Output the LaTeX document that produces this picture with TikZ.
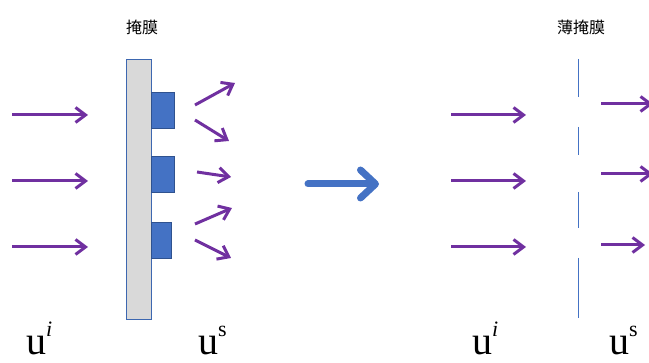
\documentclass[tikz,border=0pt]{standalone}
\usepackage{fontspec}
\setmainfont{Liberation Serif}
\newfontfamily\cjk{Noto Sans CJK SC}
\usetikzlibrary{arrows.meta, positioning}
\definecolor{raypurple}{HTML}{7030A0}
\definecolor{maskblue}{HTML}{4472C4}
\definecolor{maskedge}{HTML}{2F528F}
\definecolor{maskgray}{HTML}{D9D9D9}

\newcommand{\field}[1]{\fontsize{40}{40}\selectfont u\raisebox{0.45em}{\fontsize{22}{22}\selectfont #1}}

\begin{document}
\begin{tikzpicture}[
    x=1pt, y=-1pt,
    mask/.style={draw=maskblue!90!black, line width=0.8pt, fill=maskgray, minimum width=25pt, minimum height=260pt, inner sep=0pt},
    block/.style={draw=maskedge, line width=0.6pt, fill=maskblue, minimum width=23pt, minimum height=36pt, inner sep=0pt},
    film/.style={draw=maskblue, line width=1pt},
    title/.style={font=\cjk\fontsize{16}{16}\selectfont, inner sep=0pt},
    sym/.style={anchor=base west, inner sep=0pt},
    ray/.style={raypurple, line width=3pt, -{Straight Barb[length=10pt, width=15pt]}},
    bigarrow/.style={maskblue, line width=7pt, line cap=round, -{Straight Barb[length=15pt, width=28pt, line cap=round, line join=round]}}
]
\useasboundingbox (0,0) rectangle (649,363);

% Thick mask with its relief blocks
\node[mask] (mask) at (138.5,189) {};
\node[block, anchor=north west] (blk1) at (mask.east |- 0,92) {};
\node[block, anchor=north west] (blk2) at (mask.east |- 0,156) {};
\node[block, anchor=north west, minimum width=20pt] (blk3) at (mask.east |- 0,222) {};
\node[title] (maskname) at (142,27) {掩膜};

% Incident light, both sides
\foreach \y [count=\k] in {115,181,247} {
  \coordinate (inA\k) at (12,\y);
  \coordinate (hitA\k) at (88,\y);
  \draw[ray] (inA\k) -- (hitA\k);
  \coordinate (inB\k) at (451,\y);
  \coordinate (hitB\k) at (526,\y);
  \draw[ray] (inB\k) -- (hitB\k);
}

% Scattered light behind the thick mask
\foreach \xa/\ya/\xb/\yb [count=\k] in {195/105/235/83, 195/120/229/141, 197/172/231/177, 195/224/232/208, 195/240/231/258} {
  \coordinate (scS\k) at (\xa,\ya);
  \coordinate (scE\k) at (\xb,\yb);
  \draw[ray] (scS\k) -- (scE\k);
}

% Thin mask approximation
\foreach \ya/\yb in {59/97, 127/155, 192/228, 258/318}
  \draw[film] (578,\ya) -- (578,\yb);
\node[title] (filmname) at (581,27) {薄掩膜};

% Transmitted light behind the thin mask
\foreach \y/\xe [count=\k] in {104/653, 174/653, 245/645} {
  \coordinate (trS\k) at (601,\y);
  \coordinate (trE\k) at (\xe,\y);
  \draw[ray] (trS\k) -- (trE\k);
}

% From thick to thin
\coordinate (thick) at (308,184);
\coordinate (thin) at (379,184);
\draw[bigarrow] (thick) -- (thin);

% Field symbols
\node[sym] (uiA) at (26,355) {\field{\itshape i}};
\node[sym] (usA) at (198,355) {\field{s}};
\node[sym] (uiB) at (472,355) {\field{\itshape i}};
\node[sym] (usB) at (609,355) {\field{s}};

\end{tikzpicture}
\end{document}
